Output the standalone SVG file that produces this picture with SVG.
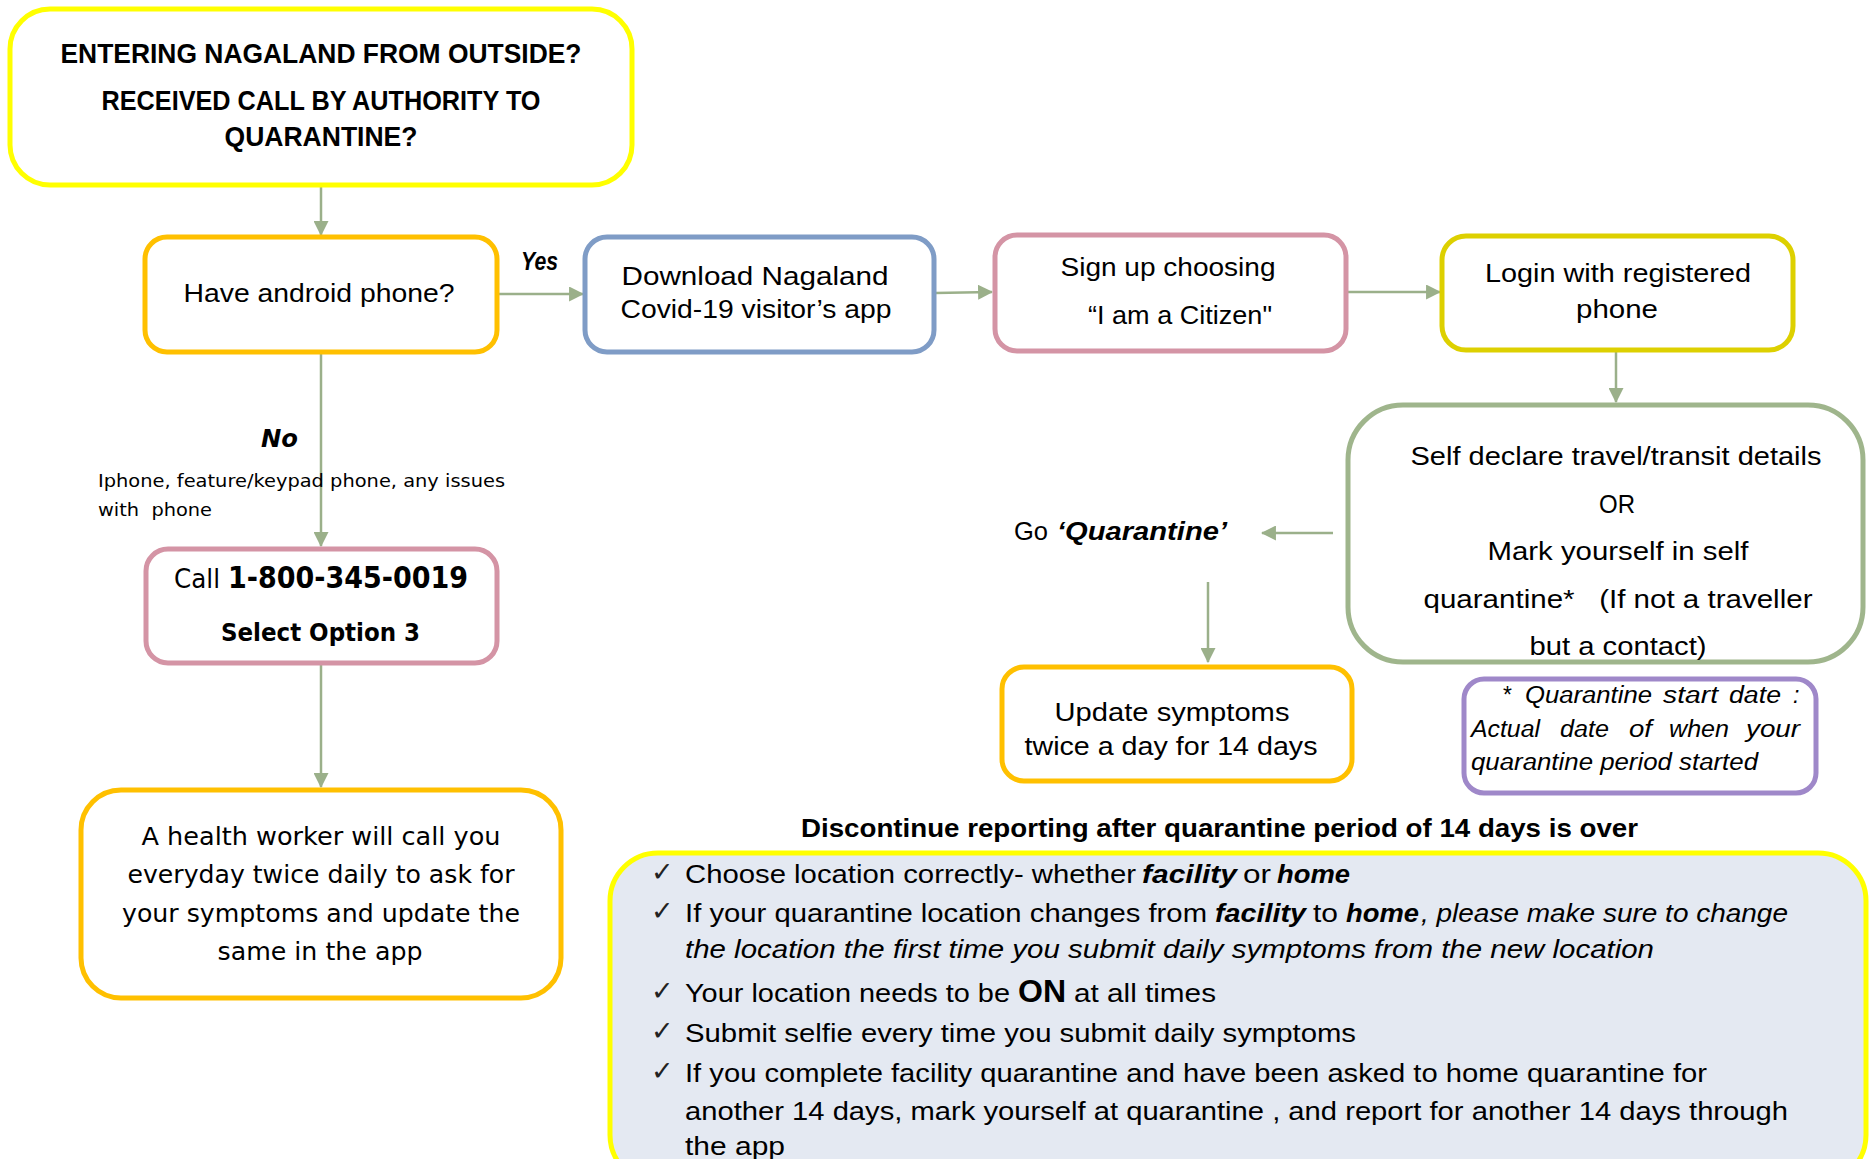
<svg xmlns="http://www.w3.org/2000/svg" width="1872" height="1159" viewBox="0 0 1872 1159">
<defs>
<marker id="ah" viewBox="0 0 14 14" refX="13" refY="7" markerWidth="15" markerHeight="15" markerUnits="userSpaceOnUse" orient="auto">
<path d="M0,0 L14,7 L0,14 Z" fill="#9BB08A"/>
</marker>
<style>
.box{fill:#fff;stroke-width:5}
.c{font-family:"Liberation Sans",Arial,sans-serif;fill:#000}
.v{font-family:"DejaVu Sans",Verdana,sans-serif;fill:#000}
.b{font-weight:bold}
.i{font-style:italic}
.m{text-anchor:middle}
.ln{fill:none;stroke:#9BB08A;stroke-width:2.5;marker-end:url(#ah)}
.ck{font-family:"DejaVu Sans",sans-serif;font-size:27px;fill:#222}
</style>
</defs>
<rect width="1872" height="1159" fill="#fff"/>

<g id="connectors">
<path class="ln" d="M321,186 L321,235"/>
<path class="ln" d="M498,294 L583,294"/>
<path class="ln" d="M935,293 L992,292"/>
<path class="ln" d="M1347,292 L1440,292"/>
<path class="ln" d="M1616,351 L1616,402"/>
<path class="ln" d="M1333,533 L1262,533"/>
<path class="ln" d="M1208,582 L1208,662"/>
<path class="ln" d="M321,353 L321,546"/>
<path class="ln" d="M321,665 L321,787"/>
</g>

<g id="n-start">
<rect class="box" x="10" y="9" width="622" height="176" rx="40" stroke="#FFFF00" stroke-width="6"/>
<text class="c b m" font-size="28" x="321" y="63" textLength="521" lengthAdjust="spacingAndGlyphs">ENTERING NAGALAND FROM OUTSIDE?</text>
<text class="c b m" font-size="28" x="321" y="110" textLength="439" lengthAdjust="spacingAndGlyphs">RECEIVED CALL BY AUTHORITY TO</text>
<text class="c b m" font-size="28" x="321" y="146" textLength="193" lengthAdjust="spacingAndGlyphs">QUARANTINE?</text>
</g>

<g id="n-android">
<rect class="box" x="145" y="237" width="352" height="115" rx="22" stroke="#FFC000"/>
<text class="c m" font-size="26" x="319" y="302" textLength="271" lengthAdjust="spacingAndGlyphs">Have android phone?</text>
</g>

<text class="c b i" font-size="26" x="521" y="270" textLength="37" lengthAdjust="spacingAndGlyphs">Yes</text>

<g id="n-download">
<rect class="box" x="585" y="237" width="349" height="115" rx="22" stroke="#7F9CC6"/>
<text class="c m" font-size="26" x="755" y="285" textLength="267" lengthAdjust="spacingAndGlyphs">Download Nagaland</text>
<text class="c m" font-size="26" x="756" y="318" textLength="271" lengthAdjust="spacingAndGlyphs">Covid-19 visitor’s app</text>
</g>

<g id="n-signup">
<rect class="box" x="995" y="235" width="351" height="116" rx="22" stroke="#D494A5"/>
<text class="c m" font-size="26" x="1168" y="276" textLength="215" lengthAdjust="spacingAndGlyphs">Sign up choosing</text>
<text class="c m" font-size="26" x="1180" y="324" textLength="184" lengthAdjust="spacingAndGlyphs">“I am a Citizen"</text>
</g>

<g id="n-login">
<rect class="box" x="1442" y="236" width="351" height="114" rx="24" stroke="#DDD000"/>
<text class="c m" font-size="26" x="1618" y="282" textLength="266" lengthAdjust="spacingAndGlyphs">Login with registered</text>
<text class="c m" font-size="26" x="1617" y="318" textLength="82" lengthAdjust="spacingAndGlyphs">phone</text>
</g>

<g id="n-declare">
<rect class="box" x="1348" y="405" width="515" height="257" rx="55" stroke="#9FB58C"/>
<text class="c m" font-size="26" x="1616" y="465" textLength="411" lengthAdjust="spacingAndGlyphs">Self declare travel/transit details</text>
<text class="c m" font-size="26" x="1617" y="513" textLength="36" lengthAdjust="spacingAndGlyphs">OR</text>
<text class="c m" font-size="26" x="1618" y="560" textLength="261" lengthAdjust="spacingAndGlyphs">Mark yourself in self</text>
<text class="c m" font-size="26" x="1618" y="608" textLength="389" lengthAdjust="spacingAndGlyphs">quarantine*&#160;&#160; (If not a traveller</text>
<text class="c m" font-size="26" x="1618" y="655" textLength="177" lengthAdjust="spacingAndGlyphs">but a contact)</text>
</g>

<g id="n-go">
<text class="c" font-size="26" y="540"><tspan x="1014" textLength="34" lengthAdjust="spacingAndGlyphs">Go</tspan><tspan x="1057" class="b i" textLength="170" lengthAdjust="spacingAndGlyphs">‘Quarantine’</tspan></text>
</g>

<g id="n-update">
<rect class="box" x="1002" y="667" width="350" height="114" rx="22" stroke="#FFC000"/>
<text class="c m" font-size="26" x="1172" y="721" textLength="235" lengthAdjust="spacingAndGlyphs">Update symptoms</text>
<text class="c m" font-size="26" x="1171" y="755" textLength="293" lengthAdjust="spacingAndGlyphs">twice a day for 14 days</text>
</g>

<g id="n-note">
<rect class="box" x="1464" y="679" width="352" height="114" rx="20" stroke="#9F88C9"/>
<text class="c i" font-size="23" y="703"><tspan x="1502">*</tspan><tspan x="1525" textLength="127" lengthAdjust="spacingAndGlyphs">Quarantine</tspan><tspan x="1663" textLength="55" lengthAdjust="spacingAndGlyphs">start</tspan><tspan x="1729" textLength="52" lengthAdjust="spacingAndGlyphs">date</tspan><tspan x="1793">:</tspan></text>
<text class="c i" font-size="23" y="737"><tspan x="1471" textLength="69" lengthAdjust="spacingAndGlyphs">Actual</tspan><tspan x="1560" textLength="49" lengthAdjust="spacingAndGlyphs">date</tspan><tspan x="1629" textLength="23" lengthAdjust="spacingAndGlyphs">of</tspan><tspan x="1669" textLength="60" lengthAdjust="spacingAndGlyphs">when</tspan><tspan x="1746" textLength="54" lengthAdjust="spacingAndGlyphs">your</tspan></text>
<text class="c i" font-size="23" x="1471" y="770" textLength="287" lengthAdjust="spacingAndGlyphs">quarantine period started</text>
</g>

<g id="n-no-label">
<text class="v b i" font-size="25" x="261" y="447" textLength="37" lengthAdjust="spacingAndGlyphs">No</text>
<text class="v" font-size="18" x="98" y="487" textLength="407" lengthAdjust="spacingAndGlyphs">Iphone, feature/keypad phone, any issues</text>
<text class="v" font-size="18" x="98" y="516" textLength="114" lengthAdjust="spacingAndGlyphs">with&#160; phone</text>
</g>

<g id="n-call">
<rect class="box" x="146" y="549" width="351" height="114" rx="22" stroke="#D494A5"/>
<text class="v" y="588"><tspan x="174" font-size="26" textLength="46" lengthAdjust="spacingAndGlyphs">Call</tspan><tspan x="228" font-size="31" font-weight="bold" textLength="240" lengthAdjust="spacingAndGlyphs">1-800-345-0019</tspan></text>
<text class="v b" font-size="24" x="221" y="641" textLength="199" lengthAdjust="spacingAndGlyphs">Select Option 3</text>
</g>

<g id="n-health">
<rect class="box" x="81" y="790" width="480" height="208" rx="40" stroke="#FFC000"/>
<text class="v m" font-size="25" x="321" y="845" textLength="359" lengthAdjust="spacingAndGlyphs">A health worker will call you</text>
<text class="v m" font-size="25" x="321" y="883" textLength="387" lengthAdjust="spacingAndGlyphs">everyday twice daily to ask for</text>
<text class="v m" font-size="25" x="321" y="922" textLength="398" lengthAdjust="spacingAndGlyphs">your symptoms and update the</text>
<text class="v m" font-size="25" x="320" y="960" textLength="205" lengthAdjust="spacingAndGlyphs">same in the app</text>
</g>

<text class="c b" font-size="26" x="801" y="837" textLength="837" lengthAdjust="spacingAndGlyphs">Discontinue reporting after quarantine period of 14 days is over</text>

<g id="n-tips">
<rect x="610" y="853" width="1256" height="330" rx="48" fill="#E4E9F2" stroke="#FFFF00" stroke-width="5"/>
<text class="ck" x="651" y="881">✓</text>
<text class="ck" x="651" y="920">✓</text>
<text class="ck" x="651" y="1000">✓</text>
<text class="ck" x="651" y="1040">✓</text>
<text class="ck" x="651" y="1080">✓</text>
<g font-size="26">
<text class="c" fill="#222" y="883"><tspan x="685" textLength="451" lengthAdjust="spacingAndGlyphs">Choose location correctly- whether</tspan><tspan x="1142" class="b i" textLength="95" lengthAdjust="spacingAndGlyphs">facility</tspan><tspan x="1243" textLength="28" lengthAdjust="spacingAndGlyphs">or</tspan><tspan x="1277" class="b i" textLength="73" lengthAdjust="spacingAndGlyphs">home</tspan></text>
<text class="c" y="922"><tspan x="685" textLength="522" lengthAdjust="spacingAndGlyphs">If your quarantine location changes from</tspan><tspan x="1215" class="b i" textLength="91" lengthAdjust="spacingAndGlyphs">facility</tspan><tspan x="1313" textLength="25" lengthAdjust="spacingAndGlyphs">to</tspan><tspan x="1346" class="b i" textLength="73" lengthAdjust="spacingAndGlyphs">home</tspan><tspan x="1421" class="i" textLength="367" lengthAdjust="spacingAndGlyphs">, please make sure to change</tspan></text>
<text class="c i" x="685" y="958" textLength="969" lengthAdjust="spacingAndGlyphs">the location the first time you submit daily symptoms from the new location</text>
<text class="c" y="1002"><tspan x="685" textLength="325" lengthAdjust="spacingAndGlyphs">Your location needs to be</tspan><tspan x="1018" class="b" font-size="32" textLength="48" lengthAdjust="spacingAndGlyphs">ON</tspan><tspan x="1074" textLength="142" lengthAdjust="spacingAndGlyphs">at all times</tspan></text>
<text class="c" x="685" y="1042" textLength="671" lengthAdjust="spacingAndGlyphs">Submit selfie every time you submit daily symptoms</text>
<text class="c" x="685" y="1082" textLength="1022" lengthAdjust="spacingAndGlyphs">If you complete facility quarantine and have been asked to home quarantine for</text>
<text class="c" x="685" y="1120" textLength="1103" lengthAdjust="spacingAndGlyphs">another 14 days, mark yourself at quarantine , and report for another 14 days through</text>
<text class="c" x="685" y="1155" textLength="100" lengthAdjust="spacingAndGlyphs">the app</text>
</g>
</g>
</svg>
